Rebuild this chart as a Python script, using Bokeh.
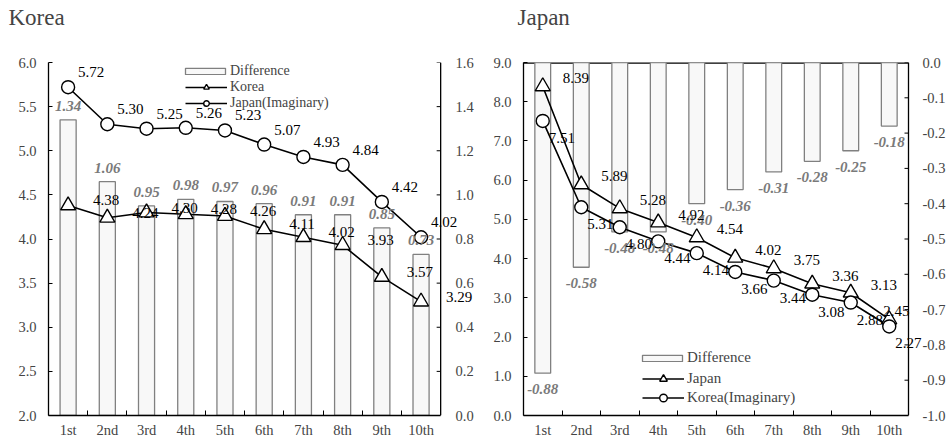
import math
from bokeh.plotting import figure
from bokeh.models import (Range1d, FixedTicker, PrintfTickFormatter, Span, LinearAxis,
                          ColumnDataSource, Legend, LegendItem, LabelSet)
from bokeh.core.properties import value
from bokeh.layouts import row
from bokeh.embed import file_html
from bokeh.resources import INLINE

# ---------------- data ----------------
cats = ["1st", "2nd", "3rd", "4th", "5th", "6th", "7th", "8th", "9th", "10th"]

korea = [4.38, 4.24, 4.30, 4.28, 4.26, 4.11, 4.02, 3.93, 3.57, 3.29]
japan_imag = [5.72, 5.30, 5.25, 5.26, 5.23, 5.07, 4.93, 4.84, 4.42, 4.02]
korea_diff = [1.34, 1.06, 0.95, 0.98, 0.97, 0.96, 0.91, 0.91, 0.85, 0.73]

japan = [8.39, 5.89, 5.28, 4.92, 4.54, 4.02, 3.75, 3.36, 3.13, 2.45]
korea_imag = [7.51, 5.31, 4.80, 4.44, 4.14, 3.66, 3.44, 3.08, 2.88, 2.27]
japan_diff = [-0.88, -0.58, -0.48, -0.48, -0.40, -0.36, -0.31, -0.28, -0.25, -0.18]

korea_left_ticks = [2.0, 2.5, 3.0, 3.5, 4.0, 4.5, 5.0, 5.5, 6.0]
korea_right_ticks = [0.0, 0.2, 0.4, 0.6, 0.8, 1.0, 1.2, 1.4, 1.6]
japan_left_ticks = [0.0, 1.0, 2.0, 3.0, 4.0, 5.0, 6.0, 7.0, 8.0, 9.0]
japan_right_ticks = [-1.0, -0.9, -0.8, -0.7, -0.6, -0.5, -0.4, -0.3, -0.2, -0.1, 0.0]

FONT = "Liberation Serif"
FS = "15px"
TFS = "14.5px"
GRAY = "#7a7a7a"
FIG_W, FIG_H = 476, 440


def make_legend(items, loc, gw, gh, standoff, fs):
    leg = Legend(items=items, location=loc)
    leg.label_text_font = FONT
    leg.label_text_font_size = fs
    leg.label_height = gh
    leg.glyph_height = gh
    leg.glyph_width = gw
    leg.label_standoff = standoff
    leg.spacing = 0
    leg.padding = 0
    leg.margin = 0
    leg.border_line_color = None
    leg.background_fill_alpha = 0
    return leg


def labels(src, ycol, tcol, align, dx, dy, color="black", style="normal", rng="default"):
    return LabelSet(x="x", y=ycol, text=tcol, source=src, y_range_name=rng,
                    x_offset=dx, y_offset=dy, text_align=align, text_baseline="middle",
                    text_font=value(FONT), text_font_size=value(FS),
                    text_color=value(color), text_font_style=value(style))


def panel(title, title_off, left_rng, left_ticks, right_rng, right_ticks,
          tri_vals, circ_vals, diff_vals, tri_name, circ_name,
          bl, plot_w, outline, leg0_loc, leg1_loc, leg_h, leg_fs,
          tri_off, circ_off, diff_off, hanging, r_standoff):
    n = len(cats)
    xs = list(range(1, n + 1))
    xr = n + 0.5                       # position of the right value axis
    frame_w = FIG_W - bl
    x_max = 0.5 + n * frame_w / plot_w  # frame extends past the right axis for labels
    p = figure(width=FIG_W, height=FIG_H, output_backend="svg", toolbar_location=None,
               x_range=Range1d(0.5, x_max), y_range=Range1d(*left_rng),
               min_border_left=bl, min_border_right=0, min_border_top=62,
               min_border_bottom=25)
    p.extra_y_ranges = {"diff": Range1d(*right_rng)}
    p.grid.visible = False
    p.outline_line_color = None
    p.background_fill_color = "white"
    p.border_fill_color = "white"

    p.title.text = title + "\n "
    p.title.text_font = FONT
    p.title.text_font_size = "23px"
    p.title.text_font_style = "normal"
    p.title.text_line_height = 1.3
    p.title.align = "left"
    p.title.offset = title_off
    p.title.standoff = 0

    # x axis
    xa = p.xaxis[0]
    xa.ticker = FixedTicker(ticks=xs, minor_ticks=[i + 0.5 for i in xs[:-1]])
    xa.major_label_overrides = {i: c for i, c in zip(xs, cats)}
    xa.major_label_text_font = FONT
    xa.major_label_text_font_size = TFS
    xa.major_tick_line_color = None
    xa.minor_tick_in = 5
    xa.minor_tick_out = 0
    xa.axis_line_width = 1.3
    xa.major_label_standoff = 0
    xa.bounds = (0.5, xr)

    # left axis
    ya = p.yaxis[0]
    ya.ticker = FixedTicker(ticks=left_ticks)
    ya.formatter = PrintfTickFormatter(format="%.1f")
    ya.major_label_text_font = FONT
    ya.major_label_text_font_size = TFS
    ya.major_tick_in = 4
    ya.major_tick_out = 0
    ya.minor_tick_line_color = None
    ya.axis_line_width = 1.3
    ya.major_label_standoff = 12

    # right value axis: line + inward ticks at x = n + 0.5, labels from a right axis
    p.add_layout(Span(location=xr, dimension="height", line_color="black",
                      line_width=1.3))
    rt = ColumnDataSource(dict(x=[xr] * len(right_ticks), y=right_ticks))
    p.ray(x="x", y="y", length=4, length_units="screen", angle=math.pi,
          source=rt, y_range_name="diff", line_color="black", line_width=1.0)
    ra = LinearAxis(y_range_name="diff")
    ra.ticker = FixedTicker(ticks=right_ticks)
    ra.formatter = PrintfTickFormatter(format="%.1f")
    ra.major_label_text_font = FONT
    ra.major_label_text_font_size = TFS
    ra.axis_line_color = None
    ra.major_tick_line_color = None
    ra.minor_tick_line_color = None
    ra.major_tick_in = 0
    ra.major_tick_out = 0
    ra.major_label_standoff = r_standoff
    p.add_layout(ra, "right")

    if outline:
        p.segment(x0=[0.5], x1=[xr], y0=[left_rng[1]], y1=[left_rng[1]],
                  line_color="black", line_width=2.4)

    src = ColumnDataSource(dict(
        x=xs, tri=tri_vals, circ=circ_vals, diff=diff_vals,
        tri_t=["%.2f" % v for v in tri_vals],
        circ_t=["%.2f" % v for v in circ_vals],
        diff_t=["%.2f" % v for v in diff_vals],
        tri_dx=tri_off[1],
        zero=[0.0] * n))

    if hanging:
        bars = p.vbar(x="x", top="zero", bottom="diff", width=0.41, source=src,
                      y_range_name="diff", fill_color="#f8f8f8", line_color="#808080",
                      line_width=1.3)
    else:
        bars = p.vbar(x="x", top="diff", bottom="zero", width=0.41, source=src,
                      y_range_name="diff", fill_color="#f8f8f8", line_color="#808080",
                      line_width=1.3)
    p.add_layout(labels(src, "diff", "diff_t", "center", 0, diff_off, GRAY,
                        "bold italic", "diff"))

    l_tri = p.line("x", "tri", source=src, line_color="black", line_width=1.6)
    l_circ = p.line("x", "circ", source=src, line_color="black", line_width=1.6)
    m_tri = p.scatter("x", "tri", source=src, marker="triangle", size=15,
                      fill_color="white", line_color="black", line_width=1.4)
    m_circ = p.scatter("x", "circ", source=src, marker="circle", size=13,
                       fill_color="white", line_color="black", line_width=1.4)

    p.add_layout(labels(src, "tri", "tri_t", tri_off[0], "tri_dx", tri_off[2]))
    p.add_layout(labels(src, "circ", "circ_t", circ_off[0], circ_off[1], circ_off[2]))

    leg0 = make_legend([LegendItem(label="Difference", renderers=[bars])],
                       leg0_loc, 50, 8, 0, leg_fs)
    leg1 = make_legend([LegendItem(label=tri_name, renderers=[l_tri, m_tri]),
                        LegendItem(label=circ_name, renderers=[l_circ, m_circ])],
                       leg1_loc, 42, leg_h, 3, leg_fs)
    p.add_layout(leg0, "center")
    p.add_layout(leg1, "center")
    return p


n_c = len(cats)
# label offsets: (align, x_offset px per point, y_offset px upward)
p1 = panel("Korea", -40, (2.0, 6.0), korea_left_ticks, (0.0, 1.6), korea_right_ticks,
           korea, japan_imag, korea_diff, "Korea", "Japan(Imaginary)",
           48, 394, False, (132, 336), (137, 304), 14, "14px",
           ("left", [25] * n_c, 5), ("left", 10, 15), 14, False, -19)

p2 = panel("Japan", -6, (0.0, 9.0), japan_left_ticks, (-1.0, 0.0), japan_right_ticks,
           japan, korea_imag, japan_diff, "Japan", "Korea(Imaginary)",
           47, 385, True, (114, 49), (119, 8), 19, FS,
           ("left", [20] * (n_c - 1) + [-6], 8), ("center", 19, -17), -16, True, -30)

layout = row(p1, p2, spacing=0)
open("out.html", "w").write(file_html(layout, INLINE))
